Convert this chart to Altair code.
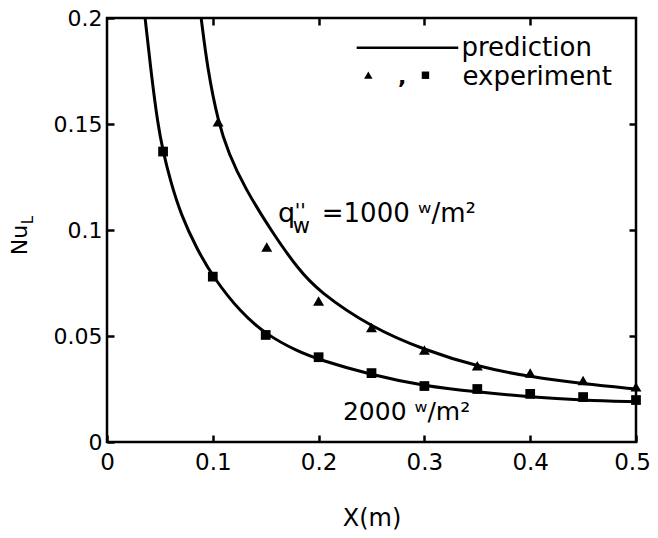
import altair as alt
import pandas as pd

# ---------------- data ----------------
x_ticks = [0, 0.1, 0.2, 0.3, 0.4, 0.5]
y_ticks = [0, 0.05, 0.1, 0.15, 0.2]
x_inner_ticks = [0.1, 0.2, 0.3, 0.4]
y_inner_ticks = [0.05, 0.1, 0.15]

pred_1000_x = [0.089, 0.095, 0.105, 0.115, 0.13, 0.156, 0.18, 0.2,
               0.25, 0.3, 0.35, 0.4, 0.45, 0.5]
pred_1000_y = [0.2, 0.176, 0.151, 0.136, 0.12, 0.099, 0.082, 0.071,
               0.054, 0.0434, 0.0356, 0.0307, 0.0274, 0.025]

pred_2000_x = [0.036, 0.042, 0.048, 0.053, 0.06, 0.07, 0.085, 0.1, 0.126, 0.151,
               0.18, 0.2, 0.25, 0.3, 0.35, 0.4, 0.45, 0.5]
pred_2000_y = [0.2, 0.173, 0.15, 0.137, 0.123, 0.107, 0.091, 0.078, 0.0612, 0.0505,
               0.0428, 0.0389, 0.0316, 0.0264, 0.0236, 0.0212, 0.0197, 0.019]

exp_1000_x = [0.105, 0.151, 0.2, 0.25, 0.3, 0.35, 0.4, 0.45, 0.5]
exp_1000_y = [0.151, 0.092, 0.0665, 0.054, 0.0434, 0.036, 0.0325, 0.029, 0.026]

exp_2000_x = [0.053, 0.1, 0.15, 0.2, 0.25, 0.3, 0.35, 0.4, 0.45, 0.5]
exp_2000_y = [0.137, 0.078, 0.0505, 0.040, 0.0325, 0.0264, 0.025, 0.0227, 0.0212, 0.0198]

# legend items (data coordinates)
legend_line_x = [0.236, 0.332]
legend_line_y = 0.186
legend_text = ["prediction", "experiment"]
legend_text_x = [0.335, 0.336]
legend_text_y = [0.186, 0.172]
legend_tri = (0.247, 0.173)
legend_sq = (0.301, 0.173)
legend_comma = (0.279, 0.172)

# annotations (data coordinates)
ann_main_text = ["=1000 \u02b7/m\u00b2", "2000 \u02b7/m\u00b2"]
ann_main_x = [0.203, 0.223]
ann_main_y = [0.1038, 0.0104]
ann_main_size = [26, 25]
ann_q = ("q", 0.1616, 0.1038)
ann_dprime = ("''", 0.1775, 0.1135)
ann_w = ("w", 0.1755, 0.0985)

FONT = "DejaVu Sans"
W, H = 529, 424

xs = alt.Scale(domain=[0, 0.5], nice=False, zero=False)
ys = alt.Scale(domain=[0, 0.2], nice=False, zero=False)

pred = pd.DataFrame(
    {"x": pred_1000_x + pred_2000_x,
     "y": pred_1000_y + pred_2000_y,
     "s": ["1000"] * len(pred_1000_x) + ["2000"] * len(pred_2000_x)}
)
tri = pd.DataFrame({"x": exp_1000_x, "y": exp_1000_y})
sq = pd.DataFrame({"x": exp_2000_x, "y": exp_2000_y})

bottom_axis = alt.Axis(orient="bottom", values=x_ticks, format=".1~f", offset=-7,
                       tickSize=7, tickWidth=2.5, tickColor="black", domain=False,
                       grid=False, labelFont=FONT, labelFontSize=23, labelColor="black",
                       labelPadding=9, labelFlush=False, labelOverlap=False,
                       labelOffset={"condition": {"test": "datum.value >= 0.5", "value": -4},
                                    "value": 0},
                       title="X(m)", titleFont=FONT, titleFontSize=24,
                       titleFontWeight="normal", titleColor="black", titlePadding=32)
left_axis = alt.Axis(orient="left", values=y_ticks, format=".2~f", offset=-7,
                     tickSize=7, tickWidth=2.5, tickColor="black", domain=False,
                     grid=False, labelFont=FONT, labelFontSize=22, labelColor="black",
                     labelPadding=5, labelFlush=False, labelOverlap=False, title=None)
top_axis = alt.Axis(orient="top", values=x_inner_ticks, offset=-7, tickSize=7,
                    tickWidth=2.5, tickColor="black", domain=False, grid=False,
                    labels=False, title=None)
right_axis = alt.Axis(orient="right", values=y_inner_ticks, offset=-7, tickSize=7,
                      tickWidth=2.5, tickColor="black", domain=False, grid=False,
                      labels=False, title=None)

lines = alt.Chart(pred).mark_line(color="black", strokeWidth=3, interpolate="basis").encode(
    x=alt.X("x:Q", scale=xs, axis=bottom_axis),
    y=alt.Y("y:Q", scale=ys, axis=left_axis),
    detail="s:N",
)

tri_pts = alt.Chart(tri).mark_point(shape="triangle-up", filled=True, size=120,
                                    color="black", opacity=1).encode(
    x=alt.X("x:Q", scale=xs, axis=top_axis),
    y=alt.Y("y:Q", scale=ys, axis=right_axis),
)

noax_x = lambda f: alt.X(f, scale=xs, axis=None)
noax_y = lambda f: alt.Y(f, scale=ys, axis=None)

sq_pts = alt.Chart(sq).mark_point(shape="square", filled=True, size=95,
                                  color="black", opacity=1).encode(
    x=noax_x("x:Q"), y=noax_y("y:Q"))

# legend
leg_line = alt.Chart(pd.DataFrame({"x": [legend_line_x[0]], "x2": [legend_line_x[1]],
                                   "y": [legend_line_y]})).mark_rule(
    color="black", strokeWidth=2.5).encode(x=noax_x("x:Q"), x2="x2:Q", y=noax_y("y:Q"))
leg_txt = alt.Chart(pd.DataFrame({"x": legend_text_x, "y": legend_text_y,
                                  "t": legend_text})).mark_text(
    font=FONT, fontSize=26, align="left", baseline="middle", color="black").encode(
    x=noax_x("x:Q"), y=noax_y("y:Q"), text="t:N")
leg_tri = alt.Chart(pd.DataFrame({"x": [legend_tri[0]], "y": [legend_tri[1]]})).mark_point(
    shape="triangle-up", filled=True, size=70, color="black", opacity=1).encode(
    x=noax_x("x:Q"), y=noax_y("y:Q"))
leg_sq = alt.Chart(pd.DataFrame({"x": [legend_sq[0]], "y": [legend_sq[1]]})).mark_point(
    shape="square", filled=True, size=55, color="black", opacity=1).encode(
    x=noax_x("x:Q"), y=noax_y("y:Q"))
leg_comma = alt.Chart(pd.DataFrame({"x": [legend_comma[0]], "y": [legend_comma[1]],
                                    "t": [","]})).mark_text(
    font=FONT, fontSize=22, fontWeight="bold", align="center", baseline="middle",
    color="black").encode(x=noax_x("x:Q"), y=noax_y("y:Q"), text="t:N")

# annotations
ann = alt.Chart(pd.DataFrame({"x": ann_main_x, "y": ann_main_y, "t": ann_main_text,
                              "fs": ann_main_size})).mark_text(
    font=FONT, align="left", baseline="alphabetic", color="black").encode(
    x=noax_x("x:Q"), y=noax_y("y:Q"), text="t:N", size=alt.Size("fs:Q", scale=None))
ann_q_l = alt.Chart(pd.DataFrame({"x": [ann_q[1]], "y": [ann_q[2]], "t": [ann_q[0]]})).mark_text(
    font=FONT, fontSize=27, align="left", baseline="alphabetic", color="black").encode(
    x=noax_x("x:Q"), y=noax_y("y:Q"), text="t:N")
ann_dp_l = alt.Chart(pd.DataFrame({"x": [ann_dprime[1]], "y": [ann_dprime[2]],
                                   "t": [ann_dprime[0]]})).mark_text(
    font=FONT, fontSize=20, align="left", baseline="top", color="black").encode(
    x=noax_x("x:Q"), y=noax_y("y:Q"), text="t:N")
ann_w_l = alt.Chart(pd.DataFrame({"x": [ann_w[1]], "y": [ann_w[2]], "t": [ann_w[0]]})).mark_text(
    font=FONT, fontSize=21, align="left", baseline="alphabetic", color="black").encode(
    x=noax_x("x:Q"), y=noax_y("y:Q"), text="t:N")

# y axis title  Nu_L
ytitle = alt.Chart(pd.DataFrame({"t": ["Nu"]})).mark_text(
    font=FONT, fontSize=22, angle=270, align="center", baseline="alphabetic",
    color="black").encode(x=alt.value(-80), y=alt.value(222), text="t:N")
ysub = alt.Chart(pd.DataFrame({"t": ["L"]})).mark_text(
    font=FONT, fontSize=15, angle=270, align="center", baseline="alphabetic",
    color="black").encode(x=alt.value(-74), y=alt.value(202), text="t:N")

chart = alt.layer(
    lines, tri_pts, sq_pts, leg_line, leg_txt, leg_tri, leg_sq, leg_comma,
    ann, ann_q_l, ann_dp_l, ann_w_l, ytitle, ysub,
).resolve_axis(x="independent", y="independent").properties(
    width=W, height=H,
    autosize=alt.AutoSizeParams(type="none"),
    padding={"left": 99, "top": 10, "right": 14, "bottom": 88},
).configure_view(stroke="black", strokeWidth=2.5)

chart.save("out.html", embed_options={"renderer": "svg", "actions": False})
